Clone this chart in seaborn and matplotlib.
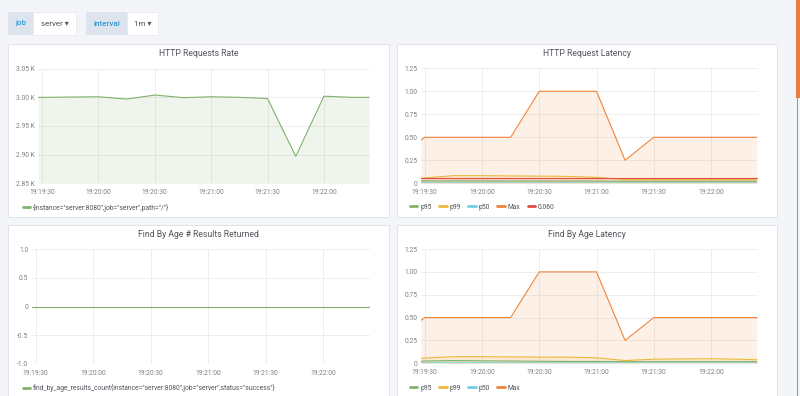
import matplotlib
matplotlib.use("Agg")
import pandas as pd
import matplotlib.pyplot as plt
import matplotlib.dates as mdates
from matplotlib.patches import Rectangle
from matplotlib.lines import Line2D
from matplotlib.ticker import FuncFormatter
import seaborn as sns

# data (15 s scrape interval)
times = ["19:19:28", "19:19:30", "19:19:45", "19:20:00", "19:20:15", "19:20:30", "19:20:45",
         "19:21:00", "19:21:15", "19:21:30", "19:21:45", "19:22:00", "19:22:15", "19:22:24"]

request_rate = [3000, 3000, 3000.5, 3001, 2997, 3004, 2999.5, 3001, 3000, 2998, 2897, 3002, 3000, 3000]

http_p95 = [0.025, 0.025, 0.027, 0.026, 0.025, 0.025, 0.024, 0.024, 0.022, 0.022, 0.022, 0.022, 0.022, 0.022]
http_p99 = [0.054, 0.058, 0.083, 0.083, 0.080, 0.078, 0.075, 0.065, 0.040, 0.040, 0.040, 0.040, 0.040, 0.040]
http_p50 = [0.003, 0.003, 0.004, 0.004, 0.003, 0.003, 0.003, 0.003, 0.003, 0.003, 0.003, 0.003, 0.003, 0.003]
http_max = [0.47, 0.5, 0.5, 0.5, 0.5, 1.0, 1.0, 1.0, 0.25, 0.5, 0.5, 0.5, 0.5, 0.5]
http_ref = [0.060] * len(times)

results_count = [0] * len(times)

age_p95 = [0.022, 0.025, 0.030, 0.027, 0.025, 0.022, 0.020, 0.020, 0.018, 0.018, 0.018, 0.018, 0.018, 0.018]
age_p99 = [0.055, 0.058, 0.072, 0.072, 0.070, 0.068, 0.067, 0.060, 0.030, 0.045, 0.048, 0.050, 0.045, 0.038]
age_p50 = [0.004, 0.004, 0.005, 0.005, 0.004, 0.004, 0.004, 0.004, 0.003, 0.003, 0.003, 0.003, 0.003, 0.003]
age_max = [0.47, 0.5, 0.5, 0.5, 0.5, 1.0, 1.0, 1.0, 0.25, 0.5, 0.5, 0.5, 0.5, 0.5]

W, H = 800, 396
BG = '#f4f5f8'
GREEN, YELLOW, CYAN, ORANGE, RED = '#7eb26d', '#eab839', '#6ed0e0', '#ef843c', '#e24d42'
TEXT = '#52545c'
TICK = '#7b7e85'

sns.set_theme(style="white")
plt.rcParams['font.family'] = ['Roboto', 'DejaVu Sans']

t = pd.to_datetime(["2018-01-01 " + s for s in times])
x_range = (pd.Timestamp("2018-01-01 19:19:28"), pd.Timestamp("2018-01-01 19:22:24.5"))

fig = plt.figure(figsize=(8, 3.96), dpi=100, facecolor=BG)


def fig_box(x, y, w, h):
    """pixel box (top-left origin) -> figure fraction"""
    return [x / W, 1 - (y + h) / H, w / W, h / H]


def add_rect(x, y, w, h, face, edge='none', lw=0):
    fig.patches.append(Rectangle((x / W, 1 - (y + h) / H), w / W, h / H, transform=fig.transFigure,
                                 facecolor=face, edgecolor=edge, linewidth=lw, zorder=-1))


def add_text(x, y, s, **kw):
    fig.text(x / W, 1 - y / H, s, ha=kw.pop('ha', 'center'), va='center', **kw)


def draw_panel(panel, title, box, series, ylim, yticks, fmt, legend_xy, fill=True):
    px, py, pw, ph = panel
    add_rect(px, py, pw, ph, 'white', '#dde1e8', 0.6)
    add_text(px + pw / 2, py + 9.5, title, fontsize=6.2, color=TEXT)

    ax = fig.add_axes(fig_box(*box))
    ax.set_facecolor('none')
    for name, values, color in series:
        sns.lineplot(x=t, y=values, color=color, linewidth=0.8, label=name, ax=ax, zorder=3)
        if fill:
            ax.fill_between(t, values, ylim[0], color=color, alpha=0.12, linewidth=0)

    ax.set_xlim(*x_range)
    ax.set_ylim(*ylim)
    ax.set_yticks(yticks)
    ax.yaxis.set_major_formatter(FuncFormatter(fmt))
    ax.xaxis.set_major_locator(mdates.SecondLocator(bysecond=[0, 30]))
    ax.xaxis.set_major_formatter(mdates.DateFormatter('%H:%M:%S'))
    ax.tick_params(axis='x', pad=4.3, length=0, labelsize=4.8, labelcolor=TICK)
    ax.tick_params(axis='y', pad=2.4, length=0, labelsize=4.8, labelcolor=TICK)
    ax.grid(True, color='#ebebeb', linewidth=0.6, zorder=0)
    ax.set_xlabel('')
    ax.set_ylabel('')
    for s in ax.spines.values():
        s.set_visible(False)

    handles = [Line2D([], [], color=c, linewidth=2) for _, _, c in series]
    labels = [n for n, _, _ in series]
    ax.legend(handles, labels, loc='center left', bbox_to_anchor=(legend_xy[0] / W, 1 - legend_xy[1] / H),
              bbox_transform=fig.transFigure, ncol=len(series), frameon=False, fontsize=4.9,
              handlelength=1.1, handletextpad=0.4, columnspacing=1.1, borderaxespad=0, borderpad=0,
              labelcolor=TEXT)
    return ax


def kilo(v, _):
    return f'{v / 1000:.2f} K'


def two_dec(v, _):
    return '0' if abs(v) < 1e-9 else f'{v:.2f}'


def one_dec(v, _):
    return '0' if abs(v) < 1e-9 else f'{v:.1f}'


# template variable selectors
add_rect(8, 12, 25, 23, '#dde4ed')
add_text(20.5, 23.5, 'job', fontsize=5.8, color='#2f9ad8', fontweight='medium')
add_rect(33, 12, 43, 23, 'white', '#e3e6eb', 0.5)
add_text(54.5, 23.5, 'server \u25be', fontsize=5.8, color=TEXT)
add_rect(86, 12, 41, 23, '#dde4ed')
add_text(106.5, 23.5, 'interval', fontsize=5.8, color='#2f9ad8', fontweight='medium')
add_rect(127, 12, 31, 23, 'white', '#e3e6eb', 0.5)
add_text(142.5, 23.5, '1m \u25be', fontsize=5.8, color=TEXT)

# scrollbar on the right edge
add_rect(796, 0, 4, 98, '#eb7c3f')
add_rect(797.2, 98, 0.8, 298, '#a2958c')

draw_panel((8.3, 44.3, 381, 173), 'HTTP Requests Rate', (38.3, 68.7, 331.7, 114.6),
           [('{instance="server:8080",job="server",path="/"}', request_rate, GREEN)],
           (2850, 3050), [2850, 2900, 2950, 3000, 3050], kilo, (22.5, 207.7))

draw_panel((396.7, 44.3, 380.6, 173), 'HTTP Request Latency', (421, 68.3, 336.7, 115),
           [('p95', http_p95, GREEN), ('p99', http_p99, YELLOW), ('p50', http_p50, CYAN),
            ('Max', http_max, ORANGE), ('0.060', http_ref, RED)],
           (0, 1.25), [0, 0.25, 0.5, 0.75, 1.0, 1.25], two_dec, (410, 207.3))

draw_panel((8.3, 225, 381, 180), 'Find By Age # Results Returned', (31.7, 249, 338.3, 115),
           [('find_by_age_results_count{instance="server:8080",job="server",status="success"}', results_count, GREEN)],
           (-1, 1), [-1, -0.5, 0, 0.5, 1], one_dec, (22.5, 388), fill=False)

draw_panel((396.7, 225, 380.6, 180), 'Find By Age Latency', (421, 249, 336.7, 114.3),
           [('p95', age_p95, GREEN), ('p99', age_p99, YELLOW), ('p50', age_p50, CYAN),
            ('Max', age_max, ORANGE)],
           (0, 1.25), [0, 0.25, 0.5, 0.75, 1.0, 1.25], two_dec, (410, 388))

fig.savefig('out.png', dpi=100, facecolor=BG)
